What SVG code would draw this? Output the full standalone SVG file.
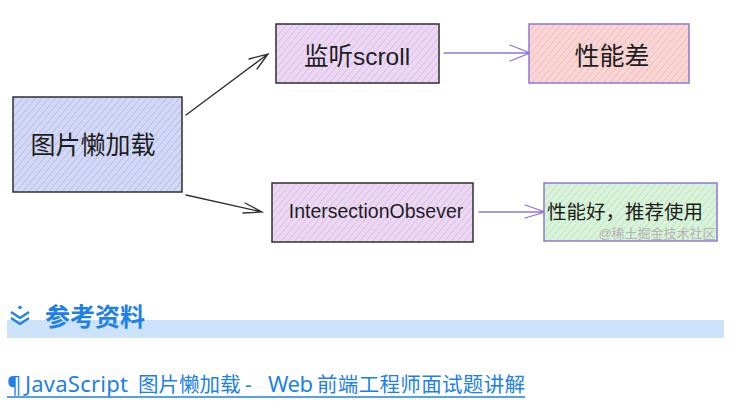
<svg xmlns="http://www.w3.org/2000/svg" width="739" height="417" viewBox="0 0 739 417">
<style>
.box{stroke-width:1.5}
.dark{stroke:#2f2f2f}
.purp{stroke:#8d78d4}
.t{font-family:"Liberation Sans","Noto Sans CJK SC",sans-serif;fill:#1e1e1e;text-anchor:middle;dominant-baseline:central}
.c{fill:none;stroke-width:1.3;stroke-linecap:round}
.link{font-family:"Noto Sans","Noto Sans CJK SC",sans-serif;fill:#1e80e8}
.lat{font-size:22px}
</style>
<defs>
<pattern id="hBlue" width="5" height="5" patternUnits="userSpaceOnUse" patternTransform="rotate(40)">
<rect width="5" height="5" fill="#d3d8f5"/><line x1="0" y1="0" x2="0" y2="5" stroke="#a9b3e6" stroke-width="1.2"/></pattern>
<pattern id="hPurp" width="5" height="5" patternUnits="userSpaceOnUse" patternTransform="rotate(40)">
<rect width="5" height="5" fill="#ecd8f3"/><line x1="0" y1="0" x2="0" y2="5" stroke="#d5b0e4" stroke-width="1.2"/></pattern>
<pattern id="hRed" width="5" height="5" patternUnits="userSpaceOnUse" patternTransform="rotate(40)">
<rect width="5" height="5" fill="#f9d6d6"/><line x1="0" y1="0" x2="0" y2="5" stroke="#f0b0b0" stroke-width="1.2"/></pattern>
<pattern id="hGreen" width="5" height="5" patternUnits="userSpaceOnUse" patternTransform="rotate(40)">
<rect width="5" height="5" fill="#d9f3da"/><line x1="0" y1="0" x2="0" y2="5" stroke="#b2e0b4" stroke-width="1.2"/></pattern>
</defs>
<rect width="739" height="417" fill="#ffffff"/>

<g id="connectors">
<g class="c dark">
<path d="M186 115 L268 54 M249 59 L268 54 L257 69"/>
<path d="M186 195 L262 212 M245 203 L262 212 L243 213"/>
</g>
<g class="c purp">
<path d="M444 53 L530 53 M510 45 L530 53 L510 61"/>
<path d="M479 212 L545 212 M525 205 L545 212 L525 218"/>
</g>
</g>

<g id="node-lazy">
<rect x="13" y="97" width="169" height="95" fill="url(#hBlue)" class="box dark"/>
<text x="93" y="145" class="t" font-size="25">图片懒加载</text>
</g>
<g id="node-scroll">
<rect x="276" y="24" width="163" height="59" fill="url(#hPurp)" class="box dark"/>
<text x="357" y="56" class="t" font-size="24.5">监听scroll</text>
</g>
<g id="node-bad">
<rect x="529" y="24" width="160" height="59" fill="url(#hRed)" class="box purp"/>
<text x="612" y="56" class="t" font-size="25">性能差</text>
</g>
<g id="node-io">
<rect x="272" y="183" width="201" height="59" fill="url(#hPurp)" class="box dark"/>
<text x="376" y="211" class="t" font-size="19.5">IntersectionObsever</text>
</g>
<g id="node-good">
<rect x="544" y="183" width="173" height="58" fill="url(#hGreen)" class="box purp"/>
<text x="625" y="212" class="t" font-size="19.5">性能好，推荐使用</text>
<text x="657" y="233" class="t" font-size="13" style="fill:#b4b4b4">@稀土掘金技术社区</text>
</g>

<g id="heading">
<rect x="7" y="320" width="717" height="18" fill="#cde2fb"/>
<circle cx="20" cy="307.5" r="1.8" fill="#1e80e8"/>
<path d="M11 312 L20 318 L29 312 M11 318 L20 324 L29 318" fill="none" stroke="#1e80e8" stroke-width="2.2" stroke-linejoin="round"/>
<text x="45" y="326" font-family="'Noto Sans CJK SC',sans-serif" font-weight="bold" font-size="25" fill="#1e80e8">参考资料</text>
</g>
<g id="link">
<text y="392" class="link" font-size="20.5"><tspan x="7" class="lat">¶</tspan><tspan x="25" class="lat" textLength="103" lengthAdjust="spacing">JavaScript</tspan><tspan x="138">图片懒加载</tspan><tspan x="245">-</tspan><tspan x="268" class="lat" textLength="45" lengthAdjust="spacing">Web</tspan><tspan x="317" textLength="208" lengthAdjust="spacing">前端工程师面试题讲解</tspan></text>
<line x1="7" y1="397" x2="525" y2="397" stroke="#1e80e8" stroke-width="1.3"/>
</g>
</svg>
